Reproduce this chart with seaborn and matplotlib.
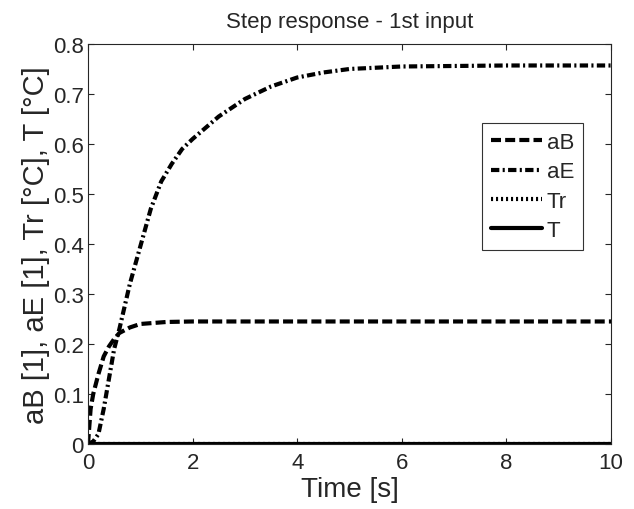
import numpy as np
import pandas as pd
import matplotlib
matplotlib.use("Agg")
import matplotlib.pyplot as plt
import seaborn as sns

# values
t_aB = [0, 0.05, 0.1, 0.2, 0.3, 0.4, 0.5, 0.6, 0.8, 1.0, 1.5, 2.0, 4.0, 6.0, 8.0, 10.0]
aB = [0, 0.07, 0.10, 0.14, 0.175, 0.195, 0.21, 0.222, 0.233, 0.240, 0.244, 0.245, 0.245, 0.245, 0.245, 0.245]

t_aE = [0, 0.1, 0.2, 0.3, 0.4, 0.5, 0.6, 0.8, 1.0, 1.2, 1.4, 1.6, 1.8, 2.0, 2.5, 3.0,
        3.5, 4.0, 4.5, 5.0, 6.0, 7.0, 8.0, 10.0]
aE = [0, 0.005, 0.02, 0.07, 0.13, 0.19, 0.23, 0.32, 0.395, 0.47, 0.525, 0.56, 0.59, 0.61,
      0.655, 0.69, 0.715, 0.733, 0.743, 0.75, 0.755, 0.756, 0.757, 0.757]

t_T = [0, 10.0]
Tr = [0, 0]
T = [0, 0]

sns.set_style("ticks")
plt.rcParams['font.family'] = ['Liberation Sans', 'DejaVu Sans']

fig = plt.figure(figsize=(6.34, 5.10), dpi=100)
ax = fig.add_axes([0.1388, 0.1275, 0.825, 0.7843])

lw = 3.0
sns.lineplot(x=t_aB, y=aB, ax=ax, color='black', lw=lw, label='aB')
ax.lines[-1].set_dashes((2.4, 1.0))
sns.lineplot(x=t_aE, y=aE, ax=ax, color='black', lw=lw, label='aE')
ax.lines[-1].set_dashes((2.0, 0.8, 0.5, 0.8))
sns.lineplot(x=t_T, y=Tr, ax=ax, color='black', lw=lw, label='Tr')
ax.lines[-1].set_dashes((0.5, 0.7))
sns.lineplot(x=t_T, y=T, ax=ax, color='black', lw=lw, label='T')

ax.set_xlim(0, 10)
ax.set_ylim(0, 0.8)
ax.set_xticks(np.arange(0, 11, 2))
ax.set_yticks(np.arange(0, 0.81, 0.1))
ax.set_yticklabels(['0', '0.1', '0.2', '0.3', '0.4', '0.5', '0.6', '0.7', '0.8'])
ax.tick_params(direction='in', top=True, right=True, labelsize=16, length=4, width=0.8, pad=3)
ax.tick_params(axis='x', pad=6)
for s in ax.spines.values():
    s.set_linewidth(0.8)
    s.set_visible(True)

ax.set_xlabel('Time [s]', fontsize=20, labelpad=2)
ax.set_ylabel('aB [1], aE [1], Tr [°C], T [°C]', fontsize=21, labelpad=2)
ax.set_title('Step response - 1st input', fontsize=16, pad=12)

leg = ax.legend(loc='upper right', bbox_to_anchor=(583 / 634, 1 - 124 / 510),
                bbox_transform=fig.transFigure, fontsize=16,
                frameon=True, fancybox=False, edgecolor='black', handlelength=2.3,
                handletextpad=0.2, borderpad=0.4, labelspacing=0.38, borderaxespad=0)
leg.get_frame().set_linewidth(0.8)

fig.savefig('out.png', dpi=100)
